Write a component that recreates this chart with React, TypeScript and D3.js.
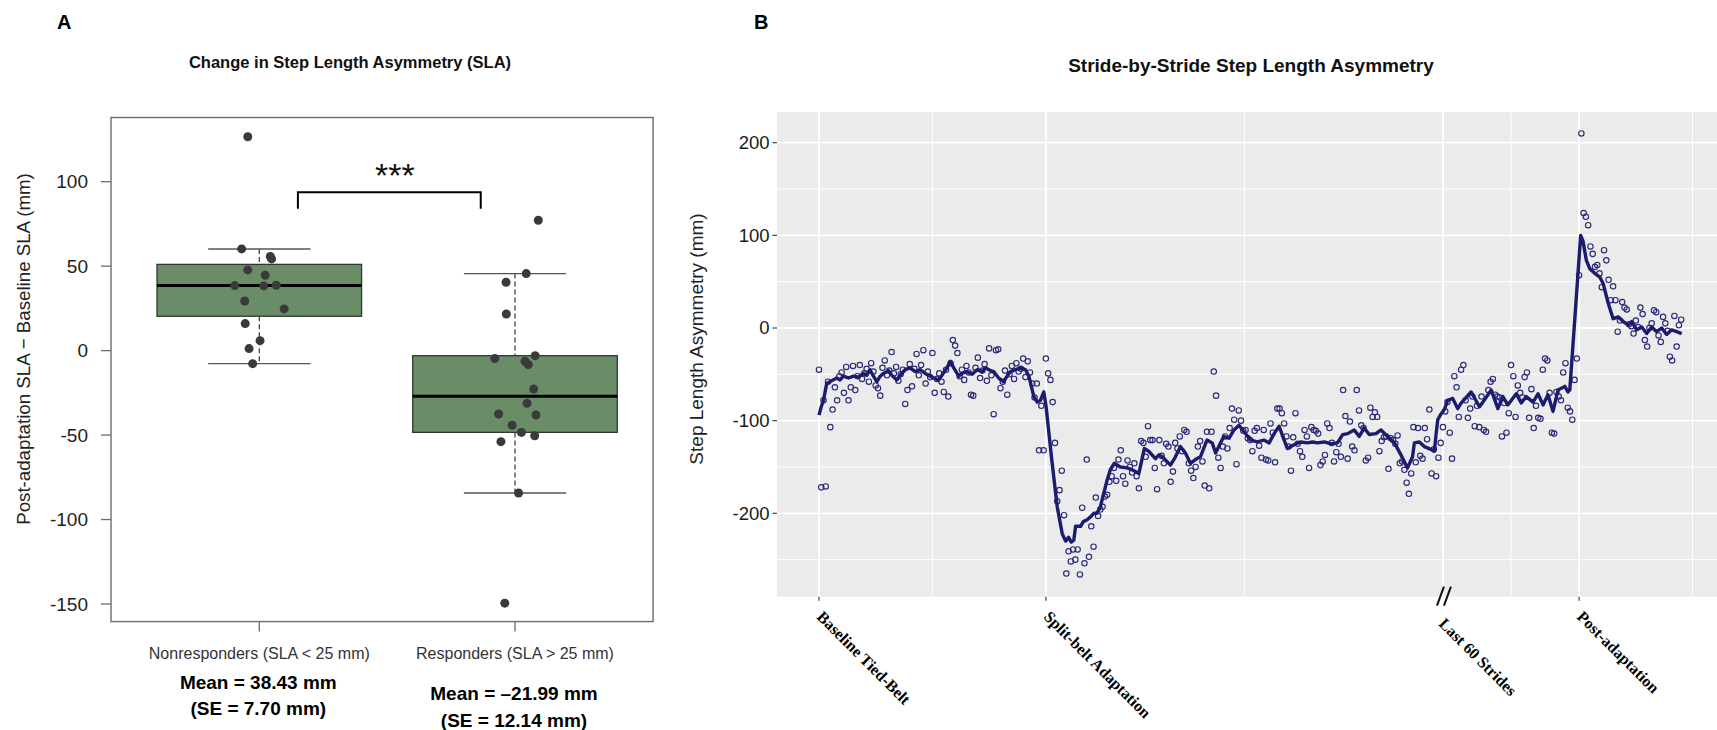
import React, { useEffect } from "react";
import * as d3 from "d3";

// ---------------- Panel A data ----------------
const groupNames = ["Nonresponders (SLA < 25 mm)", "Responders (SLA > 25 mm)"];
const groupMeans = ["Mean = 38.43 mm", "Mean = \u201321.99 mm"];
const groupSEs = ["(SE = 7.70 mm)", "(SE = 12.14 mm)"];
const nonresponderSLA = [126.6, 60.2, 55.7, 54.3, 47.8, 44.6, 38.5, 38.3, 38.7, 29.4, 24.7, 16.0, 5.9, 1.2, -7.7];
const nonresponderJitter = [-0.045, -0.069, 0.043, 0.048, -0.045, 0.023, -0.096, 0.017, 0.066, -0.057, 0.097, -0.055, 0.003, -0.04, -0.026];
const responderSLA = [77.2, 45.6, 40.5, 21.7, -3.0, -4.7, -6.3, -8.3, -22.7, -31.2, -37.5, -38.1, -44.2, -48.4, -50.4, -53.9, -84.3, -149.5];
const responderJitter = [0.091, 0.044, -0.035, -0.034, 0.079, -0.079, 0.039, 0.052, 0.073, 0.047, -0.064, 0.082, -0.011, 0.025, 0.077, -0.055, 0.014, -0.04];
const yTicksA = [-150, -100, -50, 0, 50, 100];
const significanceLabel = "***";

// ---------------- Panel B data ----------------
const phaseStrides = [0, 100, 275, 335];
const phaseNames = ["Baseline Tied-Belt", "Split-belt Adaptation", "Last 60 Strides", "Post-adaptation"];
const axisBreakStride = 275;
const yTicksB = [-200, -100, 0, 100, 200];

const baselineSLA = [
  -45, -172, -78, -171, -58, -107, -88, -64, -78, -52,
  -48, -70, -42, -78, -64, -41, -67, -52, -40, -55,
  -49, -44, -58, -38, -47, -62, -65, -73, -43, -35,
  -51, -46, -26, -49, -42, -57, -50, -45, -82, -67,
  -39, -63, -44, -28, -51, -40, -24, -60, -47, -53,
  -27, -70, -55, -49, -58, -69, -45, -74, -38, -13,
  -19, -27, -52, -45, -56, -41, -48, -72, -73, -43,
  -32, -54, -46, -39, -57, -22, -51, -93, -24, -23,
  -65, -58, -46, -72, -50, -41, -55, -38, -47, -44,
  -33, -53, -36, -48, -60, -75, -60, -132, -84, -132,
];
const adaptationSLA = [
  -33, -49, -56, -80, -124, -187, -175, -154, -202, -265,
  -241, -252, -239, -250, -239, -266, -194, -254, -142, -247,
  -214, -236, -183, -203, -196, -193, -182, -180, -166, -160,
  -151, -165, -142, -132, -160, -168, -143, -150, -156, -146,
  -160, -173, -122, -124, -139, -106, -121, -121, -151, -174,
  -121, -138, -146, -125, -128, -166, -155, -124, -130, -117,
  -133, -110, -112, -146, -154, -162, -150, -128, -122, -144,
  -170, -112, -173, -112, -47, -73, -140, -151, -128, -117,
  -130, -108, -87, -99, -147, -89, -100, -111, -110, -119,
  -121, -133, -111, -108, -127, -140, -110, -142, -143, -103,
  -113, -145, -87, -87, -92, -103, -117, -128, -154, -118,
  -92, -125, -133, -139, -110, -117, -151, -107, -110, -111,
  -114, -148, -144, -137, -103, -108, -124, -144, -134, -125,
  -139, -67, -95, -141, -101, -128, -132, -67, -89, -105,
  -108, -143, -140, -86, -96, -91, -96, -133, -122, -118,
  -117, -152, -119, -121, -125, -116, -146, -144, -153, -167,
  -179, -157, -107, -145, -108, -138, -141, -108, -120, -88,
  -157, -131, -160, -140, -124,
];
const last60SLA = [
  -107, -90, -80, -113, -141, -52, -64, -96, -45, -40,
  -78, -97, -87, -74, -106, -84, -107, -74, -110, -112,
  -67, -58, -55, -72, -74, -75, -117, -81, -113, -92,
  -40, -52, -96, -62, -70, -75, -53, -48, -97, -66,
  -108, -84, -97, -98, -45, -33, -35, -70, -113, -114,
  -69, -74, -78, -48, -38, -86, -90, -99, -56, -33,
];
const postSLA = [
  57, 210, 124, 120, 111, 88, 80, 66, 68, 59,
  44, 84, 73, 52, 30, 45, 30, -4, 8, 28,
  22, 20, 4, 2, -6, 8, 1, 22, 15, -13,
  -20, 0, 5, 19, 17, -8, -15, 12, 5, -3,
  -31, -35, 13, -20, 3, 9,
];
// running trend line vertices [stride, SLA]
const trendVertices: [number, number][] = [
  [0, -94], [1, -85], [2, -78], [3.4, -60], [6.3, -56], [7.8, -54], [9.3, -56], [10.8, -52], [13, -54], [15.2, -52],
  [17.4, -53], [19.6, -49], [21.1, -51], [22.5, -45], [24, -52], [25.5, -58], [27, -52], [28.4, -49], [30.6, -46], [32.1, -51],
  [34.3, -56], [35.8, -51], [38, -45], [40.2, -43], [42.4, -47], [44.6, -45], [46.8, -49], [50.5, -54], [52.7, -56], [54.2, -51],
  [56.4, -43], [57.9, -36], [59.4, -43], [61.6, -52], [63, -49], [65.2, -47], [67.5, -50], [69.7, -45], [71.9, -47], [73.3, -43],
  [75.6, -46], [77, -47], [79.2, -54], [81.4, -58], [82.9, -52], [84.4, -47], [86.6, -45], [88.8, -43], [91, -45], [92.5, -52],
  [94.7, -74], [96.2, -80], [97.6, -78], [99.1, -69], [100.1, -85], [102.5, -140], [105, -193], [107.2, -222], [108.7, -230], [110, -226],
  [111.2, -231], [112.3, -229], [113.1, -214], [115.3, -214], [116.5, -209], [118.2, -207], [119.6, -204], [121.2, -200], [122.5, -200], [124, -193],
  [127, -164], [128.4, -153], [130.2, -146], [132.8, -150], [135.8, -151], [138, -153], [141, -157], [143.4, -130], [145.3, -133], [148.3, -141],
  [149.8, -137], [151.3, -139], [154.9, -148], [157.1, -139], [159.3, -128], [161.5, -135], [163.7, -146], [165.9, -142], [168.1, -139], [171, -121],
  [173.3, -124], [174.8, -135], [176.2, -128], [178.4, -117], [180.7, -119], [182.9, -110], [185.1, -105], [187.3, -112], [190.3, -121], [193.2, -123],
  [196.1, -121], [198.4, -124], [200.6, -114], [202.8, -106], [205, -121], [206.4, -130], [209.4, -126], [212.3, -123], [215.3, -124], [217.5, -123],
  [219.7, -124], [222.7, -123], [225.6, -125], [228.5, -124], [230.8, -115], [233, -114], [235.9, -110], [238.1, -117], [240.3, -108], [242.5, -115],
  [245.5, -114], [247.7, -110], [250.6, -117], [253.6, -124], [256.5, -137], [259.4, -151], [261.6, -139], [262.4, -124], [264.6, -123], [266.8, -128],
  [269.7, -131], [271.2, -133], [272, -114], [272.7, -99], [274.1, -93], [275.6, -88], [277.1, -78], [279.3, -76], [281.5, -87], [283, -81],
  [287.4, -69], [291.1, -85], [292.6, -80], [296.3, -67], [299.2, -87], [301.4, -74], [303.6, -83], [307.3, -71], [309.5, -81], [311.7, -74],
  [314.7, -80], [316.9, -71], [319.1, -83], [321.3, -72], [323.5, -90], [325.7, -67], [328.7, -63], [330.1, -69], [330.9, -67], [335.7, 100],
  [336.7, 94], [338.2, 73], [339.7, 64], [341.9, 59], [344.1, 55], [345.6, 48], [347.8, 27], [350, 10], [352.2, 12], [354.5, 7],
  [356.7, 3], [358.2, 7], [360.4, -2], [362.6, 1], [364.8, -6], [367, 1], [369.2, -4], [371.4, 0], [373.6, -7], [375.8, -2],
  [378, -4], [380.2, -6],
];

// ---------------- helpers ----------------
const SANS = "'Liberation Sans', Arial, Helvetica, sans-serif";
const SERIF = "'Liberation Serif', 'Times New Roman', Times, serif";

function fivenum(vals: number[]) {
  const x = [...vals].sort((a, b) => a - b);
  const n = x.length;
  const n4 = Math.floor((n + 3) / 2) / 2;
  const d = [1, n4, (n + 1) / 2, n + 1 - n4, n];
  return d.map((v) => 0.5 * (x[Math.floor(v) - 1] + x[Math.ceil(v) - 1]));
}
function boxStats(vals: number[]) {
  const [, q1, med, q3] = fivenum(vals);
  const iqr = q3 - q1;
  const inside = vals.filter((v) => v >= q1 - 1.5 * iqr && v <= q3 + 1.5 * iqr);
  return { q1, med, q3, lo: d3.min(inside)!, hi: d3.max(inside)! };
}
function minorBreaks(major: number[], lim: [number, number]) {
  let b = [...major];
  const bd = b[1] - b[0];
  if (lim[0] < b[0]) b = [b[0] - bd, ...b];
  if (lim[1] > b[b.length - 1]) b = [...b, b[b.length - 1] + bd];
  const out: number[] = [];
  for (let i = 0; i < b.length - 1; i++) out.push((b[i] + b[i + 1]) / 2);
  return out.filter((v) => v >= lim[0] && v <= lim[1]);
}

export default function App() {
  useEffect(() => {
    document.body.style.margin = "0";
  }, []);

  // ---------- Panel A scales ----------
  const xA = d3.scaleLinear().domain([1, 2]).range([259.3, 515]);
  const yA = d3.scaleLinear().domain([-150, 100]).range([604, 181.7]);
  const fA = { x0: xA(0.42), x1: xA(2.54), y0: yA(138), y1: yA(-160.4) };
  const groups = [
    { pos: 1, vals: nonresponderSLA, jit: nonresponderJitter },
    { pos: 2, vals: responderSLA, jit: responderJitter },
  ];
  const meanBaselines = [[689, 715], [700, 727]];

  // ---------- Panel B scales ----------
  const xLim: [number, number] = [-18.5, 399];
  const yLim: [number, number] = [-290, 233];
  const xB = d3.scaleLinear().domain(xLim).range([777, 777 + 417.5 * 2.269]);
  const yB = d3.scaleLinear().domain([-200, 200]).range([513.3, 142.7]);
  const pTop = yB(yLim[1]);
  const pBot = yB(yLim[0]);
  const pLeft = xB(xLim[0]);
  const pRight = xB(xLim[1]);
  const allSLA = [...baselineSLA, ...adaptationSLA, ...last60SLA, ...postSLA];
  const xMinor = minorBreaks(phaseStrides, xLim);
  const yMinor = minorBreaks(yTicksB, yLim);
  const line = d3
    .line<[number, number]>()
    .x((d) => xB(d[0]))
    .y((d) => yB(d[1]));
  const navy = "#1c1c6e";

  return (
    <svg
      width={1717}
      height={730}
      style={{ position: "absolute", left: 0, top: 0, display: "block", background: "#fff" }}
      fontFamily={SANS}
    >
      {/* ================= Panel A ================= */}
      <text x={57} y={29} fontSize={20} fontWeight="bold" fill="#000">A</text>
      <text x={350} y={68} fontSize={16.5} fontWeight="bold" textAnchor="middle" fill="#111">
        Change in Step Length Asymmetry (SLA)
      </text>
      <text
        transform={`translate(23,349) rotate(-90)`}
        fontSize={18.7}
        textAnchor="middle"
        dominantBaseline="central"
        fill="#222"
      >
        Post-adaptation SLA {"\u2212"} Baseline SLA (mm)
      </text>
      <rect x={fA.x0} y={fA.y0} width={fA.x1 - fA.x0} height={fA.y1 - fA.y0} fill="none" stroke="#6b6b6b" strokeWidth={1.4} />
      {yTicksA.map((t) => (
        <g key={t}>
          <line x1={fA.x0 - 10} x2={fA.x0} y1={yA(t)} y2={yA(t)} stroke="#6b6b6b" strokeWidth={1.3} />
          <text x={fA.x0 - 23} y={yA(t)} dy="0.35em" fontSize={19} textAnchor="end" fill="#222">
            {t}
          </text>
        </g>
      ))}
      {groups.map((g, i) => {
        const s = boxStats(g.vals);
        const cx = xA(g.pos);
        return (
          <g key={i}>
            <line x1={cx} x2={cx} y1={yA(s.hi)} y2={yA(s.q3)} stroke="#444" strokeWidth={1.3} strokeDasharray="5,3" />
            <line x1={cx} x2={cx} y1={yA(s.q1)} y2={yA(s.lo)} stroke="#444" strokeWidth={1.3} strokeDasharray="5,3" />
            <line x1={xA(g.pos - 0.2)} x2={xA(g.pos + 0.2)} y1={yA(s.hi)} y2={yA(s.hi)} stroke="#555" strokeWidth={1.4} />
            <line x1={xA(g.pos - 0.2)} x2={xA(g.pos + 0.2)} y1={yA(s.lo)} y2={yA(s.lo)} stroke="#555" strokeWidth={1.4} />
            <rect
              x={xA(g.pos - 0.4)}
              y={yA(s.q3)}
              width={xA(g.pos + 0.4) - xA(g.pos - 0.4)}
              height={yA(s.q1) - yA(s.q3)}
              fill="#6a8d68"
              stroke="#2e3a2e"
              strokeWidth={1.3}
            />
            <line x1={xA(g.pos - 0.4)} x2={xA(g.pos + 0.4)} y1={yA(s.med)} y2={yA(s.med)} stroke="#000" strokeWidth={3} />
            {g.vals.map((v, j) => (
              <circle key={j} cx={xA(g.pos + g.jit[j])} cy={yA(v)} r={4.5} fill="#3a3a3a" />
            ))}
            <line x1={cx} x2={cx} y1={fA.y1} y2={fA.y1 + 10} stroke="#6b6b6b" strokeWidth={1.3} />
            <text x={cx} y={659} fontSize={16} textAnchor="middle" fill="#333">
              {groupNames[i]}
            </text>
            <text x={cx - 1} y={meanBaselines[i][0]} fontSize={19} fontWeight="bold" textAnchor="middle" fill="#000">
              {groupMeans[i]}
            </text>
            <text x={cx - 1} y={meanBaselines[i][1]} fontSize={19} fontWeight="bold" textAnchor="middle" fill="#000">
              {groupSEs[i]}
            </text>
          </g>
        );
      })}
      <path
        d={`M${xA(1.151)},${yA(84)}V${yA(93.8)}H${xA(1.866)}V${yA(84)}`}
        fill="none"
        stroke="#000"
        strokeWidth={2}
      />
      <text x={xA(1.53)} y={yA(93.8) - 5} fontSize={34} textAnchor="middle" fill="#111">
        {significanceLabel}
      </text>

      {/* ================= Panel B ================= */}
      <text x={754} y={29} fontSize={20} fontWeight="bold" fill="#000">B</text>
      <text x={1251} y={72} fontSize={19} fontWeight="bold" textAnchor="middle" fill="#111">
        Stride-by-Stride Step Length Asymmetry
      </text>
      <text
        transform={`translate(696,339) rotate(-90)`}
        fontSize={19}
        textAnchor="middle"
        dominantBaseline="central"
        fill="#222"
      >
        Step Length Asymmetry (mm)
      </text>
      <defs>
        <clipPath id="panelB">
          <rect x={pLeft} y={pTop} width={pRight - pLeft} height={pBot - pTop} />
        </clipPath>
      </defs>
      <rect x={pLeft} y={pTop} width={pRight - pLeft} height={pBot - pTop} fill="#EBEBEB" />
      <g clipPath="url(#panelB)">
        {yMinor.map((t) => (
          <line key={"ym" + t} x1={pLeft} x2={pRight} y1={yB(t)} y2={yB(t)} stroke="#fff" strokeWidth={1} />
        ))}
        {xMinor.map((t) => (
          <line key={"xm" + t} x1={xB(t)} x2={xB(t)} y1={pTop} y2={pBot} stroke="#fff" strokeWidth={1} />
        ))}
        {yTicksB.map((t) => (
          <line key={"yM" + t} x1={pLeft} x2={pRight} y1={yB(t)} y2={yB(t)} stroke="#fff" strokeWidth={1.8} />
        ))}
        {phaseStrides.map((t) => (
          <line key={"xM" + t} x1={xB(t)} x2={xB(t)} y1={pTop} y2={pBot} stroke="#fff" strokeWidth={1.8} />
        ))}
        {allSLA.map((v, i) => (
          <circle key={i} cx={xB(i)} cy={yB(v)} r={2.7} fill="none" stroke="#2a2a78" strokeWidth={1.15} />
        ))}
        <path d={line(trendVertices) ?? ""} fill="none" stroke={navy} strokeWidth={3.4} strokeLinejoin="round" />
      </g>
      {yTicksB.map((t) => (
        <g key={"yt" + t}>
          <line x1={pLeft - 4.5} x2={pLeft} y1={yB(t)} y2={yB(t)} stroke="#333" strokeWidth={1.1} />
          <text x={pLeft - 7.5} y={yB(t)} dy="0.35em" fontSize={18.5} textAnchor="end" fill="#1a1a1a">
            {t}
          </text>
        </g>
      ))}
      {phaseStrides.map((t, i) => {
        const isBreak = t === axisBreakStride;
        const x = xB(t);
        return (
          <g key={"xt" + t}>
            {isBreak ? (
              <g stroke="#111" strokeWidth={2}>
                <line x1={x - 6} y1={pBot + 9} x2={x + 1} y2={pBot - 10} />
                <line x1={x + 1} y1={pBot + 9} x2={x + 8} y2={pBot - 10} />
              </g>
            ) : (
              <line x1={x} x2={x} y1={pBot} y2={pBot + 4} stroke="#333" strokeWidth={1.1} />
            )}
            <text
              transform={`translate(${x - 3 + (isBreak ? -2 : 0)},${pBot + 21 + (isBreak ? 7 : 0)}) rotate(45)`}
              fontFamily={SERIF}
              fontWeight="bold"
              fontSize={16}
              fill="#000"
            >
              {phaseNames[i]}
            </text>
          </g>
        );
      })}
    </svg>
  );
}
